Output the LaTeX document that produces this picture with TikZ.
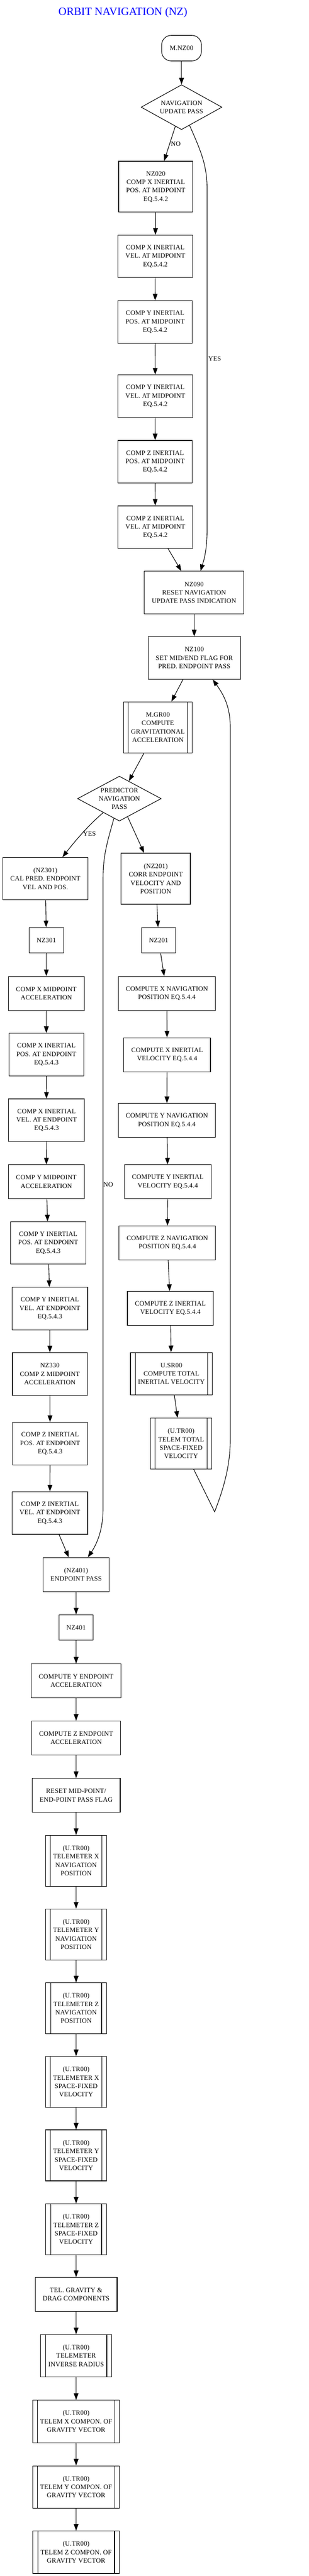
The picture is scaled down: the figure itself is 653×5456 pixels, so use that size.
\documentclass[tikz,border=0pt]{standalone}
\usepackage{fontspec}
\setmainfont{Liberation Serif}[LetterSpace=1.8]
\newfontfamily\titlefont{Liberation Serif}
\usetikzlibrary{shapes.geometric}
\usetikzlibrary{arrows.meta}
\tikzset{%
  flowarrow/.style = {-{Triangle[length=14pt,width=10pt]},line width=1.2pt},
  lbl/.style = {inner sep=2pt},
  box/.style = {rectangle,draw,line width=1.2pt,align=center,
        inner xsep=16pt,inner ysep=3pt,minimum height={18pt*#1+36pt}},
  box/.default = 3,
  sub/.style = {box=#1,path picture={
        \draw[line width=1.2pt] ([xshift=10pt]path picture bounding box.north west)
              -- ([xshift=10pt]path picture bounding box.south west);
        \draw[line width=1.2pt] ([xshift=-10pt]path picture bounding box.north east)
              -- ([xshift=-10pt]path picture bounding box.south east);}},
  sub/.default = 3,
  dec/.style = {diamond,draw,line width=1.2pt,align=center,inner sep=0pt,
        aspect=1.8,minimum height=95pt},
  term/.style = {rectangle,draw,rounded corners=20pt,line width=1.2pt,
        minimum width=84pt,minimum height=54pt}
}
\begin{document}
\begin{tikzpicture}[x=1pt,y=-1pt,font=\fontsize{14}{17.8}\selectfont]
        \useasboundingbox (0,0) rectangle (653,5456);
        \node[font=\titlefont\fontsize{23.5}{28}\selectfont,text=blue,anchor=base]
            (title) at (260,32) {ORBIT NAVIGATION (NZ)};

        \node[term] (start) at (384,102) {M.NZ00};
        \node[dec,minimum width=171pt] (upd) at (384,227) {NAVIGATION\\UPDATE PASS};
        \node[box=4] (mid-1) at (329.5,395.5) {NZ020\\COMP X INERTIAL\\POS. AT MIDPOINT\\EQ.5.4.2};
        \node[box] (mid-2) at (328.5,543) {COMP X INERTIAL\\VEL. AT MIDPOINT\\EQ.5.4.2};
        \node[box] (mid-3) at (328,682) {COMP Y INERTIAL\\POS. AT MIDPOINT\\EQ.5.4.2};
        \node[box] (mid-4) at (328.5,839) {COMP Y INERTIAL\\VEL. AT MIDPOINT\\EQ.5.4.2};
        \node[box] (mid-5) at (328,978) {COMP Z INERTIAL\\POS. AT MIDPOINT\\EQ.5.4.2};
        \node[box] (mid-6) at (328.5,1116.5) {COMP Z INERTIAL\\VEL. AT MIDPOINT\\EQ.5.4.2};
        \node[box] (reset) at (410.5,1255) {NZ090\\RESET NAVIGATION\\UPDATE PASS INDICATION};
        \node[box] (flag) at (411,1393.5) {NZ100\\SET MID/END FLAG FOR\\PRED. ENDPOINT PASS};
        \node[sub=4] (grav) at (334,1540.5) {M.GR00\\COMPUTE\\GRAVITATIONAL\\ACCELERATION};
        \node[dec,minimum width=177pt] (pred) at (252.5,1691.5) {PREDICTOR\\NAVIGATION\\PASS};

        \node[box] (cal) at (96,1861) {(NZ301)\\CAL PRED. ENDPOINT\\VEL AND POS.};
        \node[box=1] (nz301) at (98,1991.5) {NZ301};
        \node[box=2] (left-1) at (98,2104) {COMP X MIDPOINT\\ACCELERATION};
        \node[box] (left-2) at (98,2233.5) {COMP X INERTIAL\\POS. AT ENDPOINT\\EQ.5.4.3};
        \node[box] (left-3) at (98.5,2372.5) {COMP X INERTIAL\\VEL. AT ENDPOINT\\EQ.5.4.3};
        \node[box=2] (left-4) at (98,2503) {COMP Y MIDPOINT\\ACCELERATION};
        \node[box] (left-5) at (102,2632.5) {COMP Y INERTIAL\\POS. AT ENDPOINT\\EQ.5.4.3};
        \node[box] (left-6) at (105.5,2771.5) {COMP Y INERTIAL\\VEL. AT ENDPOINT\\EQ.5.4.3};
        \node[box] (left-7) at (105.5,2910) {NZ330\\COMP Z MIDPOINT\\ACCELERATION};
        \node[box] (left-8) at (106,3057.5) {COMP Z INERTIAL\\POS. AT ENDPOINT\\EQ.5.4.3};
        \node[box] (left-9) at (105.5,3204.5) {COMP Z INERTIAL\\VEL. AT ENDPOINT\\EQ.5.4.3};

        \node[box=4] (corr) at (329.5,1861) {(NZ201)\\CORR ENDPOINT\\VELOCITY AND\\POSITION};
        \node[box=1] (nz201) at (335.5,1991.5) {NZ201};
        \node[box=2] (right-1) at (353,2104) {COMPUTE X NAVIGATION\\POSITION EQ.5.4.4};
        \node[box=2] (right-2) at (353.5,2234) {COMPUTE X INERTIAL\\VELOCITY EQ.5.4.4};
        \node[box=2] (right-3) at (353,2373) {COMPUTE Y NAVIGATION\\POSITION EQ.5.4.4};
        \node[box=2] (right-4) at (355,2503) {COMPUTE Y INERTIAL\\VELOCITY EQ.5.4.4};
        \node[box=2] (right-5) at (354,2632.5) {COMPUTE Z NAVIGATION\\POSITION EQ.5.4.4};
        \node[box=2] (right-6) at (360.5,2771) {COMPUTE Z INERTIAL\\VELOCITY EQ.5.4.4};
        \node[sub=3] (right-7) at (362.5,2909.5) {U.SR00\\COMPUTE TOTAL\\INERTIAL VELOCITY};
        \node[sub=4,minimum width=130pt] (right-8) at (383,3057.5) {(U.TR00)\\TELEM TOTAL\\SPACE-FIXED\\VELOCITY};
        \coordinate (turn) at (454,3202);

        \node[box=2] (end) at (161,3335) {(NZ401)\\ENDPOINT PASS};
        \node[box=1] (nz401) at (161,3447) {NZ401};
        \node[box=2] (end-1) at (161,3560) {COMPUTE Y ENDPOINT\\ACCELERATION};
        \node[box=2] (end-2) at (161,3681) {COMPUTE Z ENDPOINT\\ACCELERATION};
        \node[box=2] (end-3) at (161,3802.5) {RESET MID-POINT/\\END-POINT PASS FLAG};
        \node[sub=4] (tel-1) at (161,3941) {(U.TR00)\\TELEMETER X\\NAVIGATION\\POSITION};
        \node[sub=4] (tel-2) at (161,4097) {(U.TR00)\\TELEMETER Y\\NAVIGATION\\POSITION};
        \node[sub=4] (tel-3) at (161,4253.5) {(U.TR00)\\TELEMETER Z\\NAVIGATION\\POSITION};
        \node[sub=4] (tel-4) at (161,4409.5) {(U.TR00)\\TELEMETER X\\SPACE-FIXED\\VELOCITY};
        \node[sub=4] (tel-5) at (161,4565) {(U.TR00)\\TELEMETER Y\\SPACE-FIXED\\VELOCITY};
        \node[sub=4] (tel-6) at (161,4721.5) {(U.TR00)\\TELEMETER Z\\SPACE-FIXED\\VELOCITY};
        \node[box=2] (tel-7) at (161,4859.5) {TEL. GRAVITY \&\\DRAG COMPONENTS};
        \node[sub] (tel-8) at (161,4989.5) {(U.TR00)\\TELEMETER\\INVERSE RADIUS};
        \node[sub] (tel-9) at (161,5128.5) {(U.TR00)\\TELEM X COMPON. OF\\GRAVITY VECTOR};
        \node[sub] (tel-10) at (161,5267.5) {(U.TR00)\\TELEM Y COMPON. OF\\GRAVITY VECTOR};
        \node[sub] (tel-11) at (161,5405.5) {(U.TR00)\\TELEM Z COMPON. OF\\GRAVITY VECTOR};

        \draw[flowarrow] (start) -- (upd);
        \draw[flowarrow] (upd) -- node[lbl,right] {NO} (mid-1);
        \draw[flowarrow] (upd) .. controls (425,320) and (438,350) .. (438,400)
            -- node[lbl,right] {YES} (438,1120)
            .. controls (438,1170) and (430,1190) .. (reset);
        \draw[flowarrow] (mid-1) -- (mid-2);
        \draw[flowarrow] (mid-2) -- (mid-3);
        \draw[flowarrow] (mid-3) -- (mid-4);
        \draw[flowarrow] (mid-4) -- (mid-5);
        \draw[flowarrow] (mid-5) -- (mid-6);
        \draw[flowarrow] (mid-6) -- (reset);
        \draw[flowarrow] (reset) -- (flag);
        \draw[flowarrow] (flag) -- (grav);
        \draw[flowarrow] (grav) -- (pred);

        \draw[flowarrow] (pred) .. controls (185,1750) and (160,1780) .. node[lbl,pos=0.5,right] {YES} (cal);
        \draw[flowarrow] (pred) -- (corr);
        \draw[flowarrow] (pred) .. controls (228,1780) and (218,1810) .. (218,1860)
            -- node[lbl,pos=0.486,right,inner sep=0pt] {NO} (218,3195)
            .. controls (218,3240) and (205,3270) .. (end);

        \draw[flowarrow] (cal) -- (nz301);
        \draw[flowarrow] (nz301) -- (left-1);
        \draw[flowarrow] (left-1) -- (left-2);
        \draw[flowarrow] (left-2) -- (left-3);
        \draw[flowarrow] (left-3) -- (left-4);
        \draw[flowarrow] (left-4) -- (left-5);
        \draw[flowarrow] (left-5) -- (left-6);
        \draw[flowarrow] (left-6) -- (left-7);
        \draw[flowarrow] (left-7) -- (left-8);
        \draw[flowarrow] (left-8) -- (left-9);
        \draw[flowarrow] (left-9) -- (end);

        \draw[flowarrow] (corr) -- (nz201);
        \draw[flowarrow] (nz201) -- (right-1);
        \draw[flowarrow] (right-1) -- (right-2);
        \draw[flowarrow] (right-2) -- (right-3);
        \draw[flowarrow] (right-3) -- (right-4);
        \draw[flowarrow] (right-4) -- (right-5);
        \draw[flowarrow] (right-5) -- (right-6);
        \draw[flowarrow] (right-6) -- (right-7);
        \draw[flowarrow] (right-7) -- (right-8);
        \draw[flowarrow] (right-8) -- (turn) .. controls (470,3160) and (487,3110) .. (487,3050)
            -- (487,1540) .. controls (487,1495) and (472,1470) .. ([xshift=39pt]flag.south);

        \draw[flowarrow] (end) -- (nz401);
        \draw[flowarrow] (nz401) -- (end-1);
        \draw[flowarrow] (end-1) -- (end-2);
        \draw[flowarrow] (end-2) -- (end-3);
        \draw[flowarrow] (end-3) -- (tel-1);
        \draw[flowarrow] (tel-1) -- (tel-2);
        \draw[flowarrow] (tel-2) -- (tel-3);
        \draw[flowarrow] (tel-3) -- (tel-4);
        \draw[flowarrow] (tel-4) -- (tel-5);
        \draw[flowarrow] (tel-5) -- (tel-6);
        \draw[flowarrow] (tel-6) -- (tel-7);
        \draw[flowarrow] (tel-7) -- (tel-8);
        \draw[flowarrow] (tel-8) -- (tel-9);
        \draw[flowarrow] (tel-9) -- (tel-10);
        \draw[flowarrow] (tel-10) -- (tel-11);
    \end{tikzpicture}
\end{document}
